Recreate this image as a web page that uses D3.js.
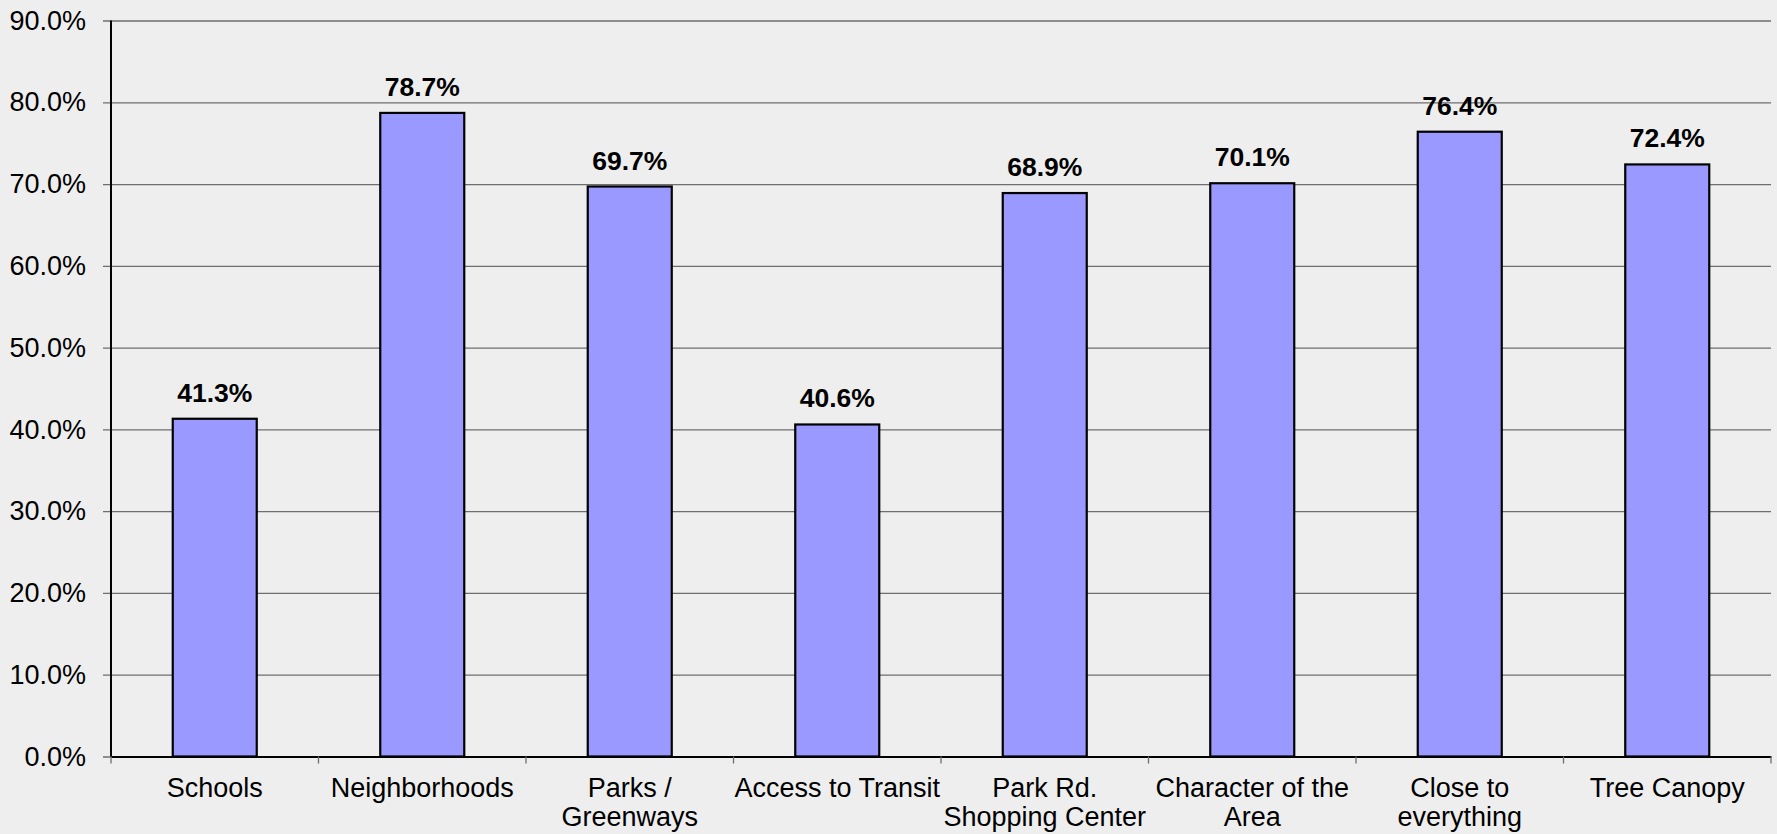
<!DOCTYPE html>
<html>
<head>
<meta charset="utf-8">
<script src="https://cdn.jsdelivr.net/npm/d3@7"></script>
<style>
  html, body { margin: 0; padding: 0; background: #eeeeee; }
  svg { display: block; }
  text { font-family: "Liberation Sans", Arial, sans-serif; fill: #000; }
</style>
</head>
<body>
<svg id="chart" width="1777" height="834"></svg>
<script>
const categories = ["Schools", "Neighborhoods", "Parks / Greenways", "Access to Transit",
  "Park Rd. Shopping Center", "Character of the Area", "Close to everything", "Tree Canopy"];
const categoryLines = [["Schools"], ["Neighborhoods"], ["Parks /", "Greenways"], ["Access to Transit"],
  ["Park Rd.", "Shopping Center"], ["Character of the", "Area"], ["Close to", "everything"], ["Tree Canopy"]];
const values = [41.3, 78.7, 69.7, 40.6, 68.9, 70.1, 76.4, 72.4];
const yTicks = [0, 10, 20, 30, 40, 50, 60, 70, 80, 90];

const W = 1777, H = 834;
const margin = {left: 111, right: 6, top: 20.5, bottom: 77.5};
const svg = d3.select("#chart");
svg.append("rect").attr("width", W).attr("height", H).attr("fill", "#eeeeee");

const x = d3.scaleBand().domain(categories).range([margin.left, W - margin.right]).paddingInner(0).paddingOuter(0);
const y = d3.scaleLinear().domain([0, 90]).range([H - margin.bottom, margin.top]);

// gridlines + y axis
const yAxis = d3.axisLeft(y).tickValues(yTicks).tickFormat(d => d.toFixed(1) + "%")
  .tickSizeInner(-(W - margin.right - margin.left)).tickSizeOuter(0).tickPadding(25);
const gy = svg.append("g").attr("transform", `translate(${margin.left},0)`).call(yAxis);
gy.select(".domain").remove();
gy.selectAll(".tick line").attr("stroke", "#6e6e6e").attr("stroke-width", 1.3).attr("x1", -8);
gy.selectAll(".tick text").attr("font-size", 27).attr("font-family", "Liberation Sans, Arial, sans-serif").attr("fill", "#000");

// bars
const barW = 84;
const g = svg.append("g");
g.selectAll("rect.bar").data(values).enter().append("rect")
  .attr("class", "bar")
  .attr("x", (d, i) => x(categories[i]) + x.bandwidth() / 2 - barW / 2)
  .attr("y", d => y(d))
  .attr("width", barW)
  .attr("height", d => y(0) - y(d))
  .attr("fill", "#9999ff")
  .attr("stroke", "#000")
  .attr("stroke-width", 2.2);

// value labels
g.selectAll("text.val").data(values).enter().append("text")
  .attr("class", "val")
  .attr("x", (d, i) => x(categories[i]) + x.bandwidth() / 2)
  .attr("y", d => y(d) - 17)
  .attr("text-anchor", "middle")
  .attr("font-size", 26.5)
  .attr("font-weight", "bold")
  .text(d => d.toFixed(1) + "%");

// x axis
const xAxis = d3.axisBottom(x).tickFormat("").tickSize(0);
const gx = svg.append("g").attr("transform", `translate(0,${y(0)})`).call(xAxis);
gx.select(".domain").attr("stroke", "#000").attr("stroke-width", 2);
// category separator ticks at band boundaries
const bounds = categories.map(c => x(c)).concat([x.range()[1]]);
gx.selectAll("line.sep").data(bounds).enter().append("line")
  .attr("class", "sep")
  .attr("x1", d => d).attr("x2", d => d)
  .attr("y1", 0).attr("y2", 7)
  .attr("stroke", "#6e6e6e").attr("stroke-width", 1.3);

// category labels
const lab = svg.append("g");
categoryLines.forEach((lines, i) => {
  const t = lab.append("text")
    .attr("x", x(categories[i]) + x.bandwidth() / 2)
    .attr("y", y(0) + 40)
    .attr("text-anchor", "middle")
    .attr("font-size", 27);
  lines.forEach((ln, j) => {
    t.append("tspan").attr("x", x(categories[i]) + x.bandwidth() / 2)
      .attr("dy", j === 0 ? 0 : 29).text(ln);
  });
});

// y axis line
svg.append("line").attr("x1", margin.left).attr("x2", margin.left)
  .attr("y1", y(90)).attr("y2", y(0)).attr("stroke", "#000").attr("stroke-width", 2);
</script>
</body>
</html>
